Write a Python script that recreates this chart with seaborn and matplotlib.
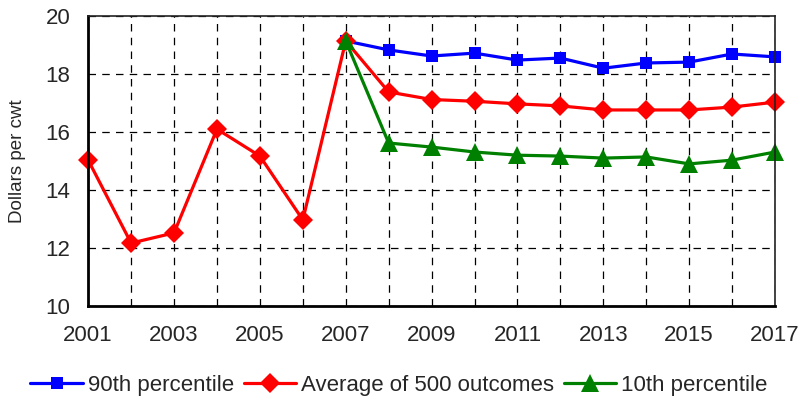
import pandas as pd
import matplotlib.pyplot as plt
import seaborn as sns

# Values (dollars per cwt)
years_avg = list(range(2001, 2018))
avg_500 = [15.03, 12.17, 12.52, 16.10, 15.17, 12.97, 19.14, 17.38, 17.12, 17.06,
           16.97, 16.90, 16.76, 16.76, 16.76, 16.86, 17.03]

years_pct = list(range(2007, 2018))
p90 = [19.14, 18.83, 18.62, 18.72, 18.48, 18.55, 18.20, 18.38, 18.41, 18.69, 18.59]
p10 = [19.14, 15.62, 15.48, 15.31, 15.20, 15.17, 15.10, 15.14, 14.90, 15.03, 15.31]

sns.set_style('white')
plt.rcParams['font.family'] = ['Liberation Sans', 'DejaVu Sans']

fig, ax = plt.subplots(figsize=(8.09, 4.0), dpi=100)
fig.subplots_adjust(left=0.109, right=0.958, top=0.96, bottom=0.235)

sns.lineplot(x=years_pct, y=p90, ax=ax, color='blue', marker='s', markersize=9,
             markeredgewidth=0, linewidth=2.3, label='90th percentile', clip_on=False)
sns.lineplot(x=years_avg, y=avg_500, ax=ax, color='red', marker='D', markersize=10,
             markeredgewidth=0, linewidth=2.3, label='Average of 500 outcomes', clip_on=False)
sns.lineplot(x=years_pct, y=p10, ax=ax, color='green', marker='^', markersize=13,
             markeredgewidth=0, linewidth=2.3, label='10th percentile', clip_on=False)

ax.set_xlim(2001, 2017)
ax.set_ylim(10, 20)
ax.set_xticks(years_avg)
ax.set_xticklabels([str(y) if y % 2 == 1 else '' for y in years_avg])
ax.set_yticks([10, 12, 14, 16, 18, 20])
ax.tick_params(axis='y', labelsize=16, length=0, pad=13)
ax.tick_params(axis='x', labelsize=16, length=0, pad=14)
ax.set_ylabel('Dollars per cwt', fontsize=13.5)
ax.yaxis.set_label_coords(-0.09, 0.5)
ax.set_xlabel('')

ax.grid(True, color='black', linestyle=(0, (6, 5)), linewidth=0.9)
for side in ['left', 'bottom']:
    ax.spines[side].set_linewidth(2)
    ax.spines[side].set_color('black')
for side in ['top', 'right']:
    ax.spines[side].set_linewidth(1.2)
    ax.spines[side].set_color('#222222')

ax.legend(loc='center', bbox_to_anchor=(0.493, 0.036), bbox_transform=fig.transFigure,
          ncol=3, frameon=False, fontsize=16, handlelength=2.35, columnspacing=0.45,
          handletextpad=0.22, borderpad=0)

plt.savefig('out.png', dpi=100)
